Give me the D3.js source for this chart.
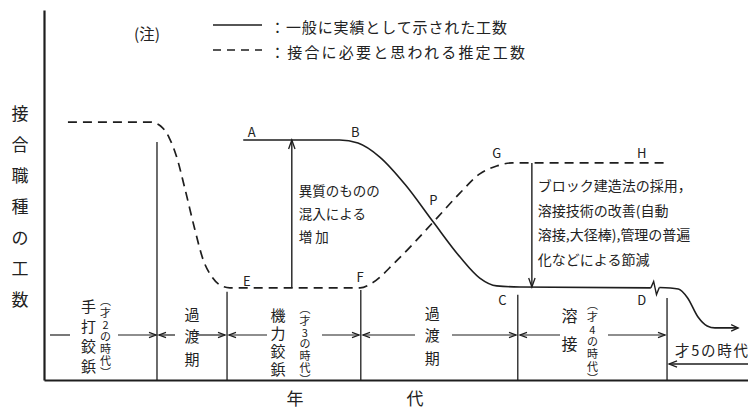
<!DOCTYPE html>
<html><head><meta charset="utf-8">
<script src="https://cdn.jsdelivr.net/npm/d3@7"></script>
<style>
body{margin:0;background:#fff}
svg{display:block}
text{font-family:"Noto Sans CJK JP","Noto Sans",sans-serif;fill:#222}
</style>
</head><body><div id="chart"></div>
<script>
// ---- data (abstract units: x = time 0..100, y = man-hours 0..132) ----
const eraBounds = [0, 16.05, 26.0, 45.0, 67.3, 88.5];
const eraTops   = [85, 31.5, 32.1, 30.4, 29.3];
const eraNames  = ["手打鉸鋲", "過渡期", "機力鉸鋲", "過渡期", "溶接"];
const eraSubs   = ["(才2の時代)", "", "(才3の時代)", "", "(才4の時代)"];
const era5Label = "才5の時代";
const yLabel = "接合職種の工数";
const xLabel = ["年", "代"];
const legendNote = "(注)";
const legendTexts = ["：一般に実績として示された工数", "：接合に必要と思われる推定工数"];

const estimated = [[3.4,92.1],[15.1,92.1],[16.6,90.6],[17.8,86.4],[18.8,80],[20.0,68.5],[21.4,54],[22.6,43],[23.8,37],[25.0,33.9],[26.4,32.9],[44.9,32.9],[46.6,34.6],[49.9,42.1],[55.3,56.4],[59.1,66.8],[61.9,73.6],[64.3,76.4],[66.5,77.5],[88.5,77.5]];
const actual = [[28.3,85.7],[42.0,85.7],[44.6,84.6],[47.7,79.6],[51.3,69.8],[55.3,56.4],[59.1,43.9],[61.9,36.4],[64.3,33.6],[67.6,33.2],[86.2,32.9]];
const actualBreak = [[86.2,32.9],[86.6,35.2],[87.0,30.5],[87.4,33.0]];
const actualTail = [[87.4,33.0],[90.1,32.5],[91.4,29.4],[92.9,22.5],[94.2,19.3],[95.3,18.6],[98.6,18.6]];
const pointLabels = [
  {k:"A",x:29.5,y:88.6},{k:"B",x:44.2,y:88.6},{k:"E",x:28.8,y:35.7},
  {k:"F",x:44.9,y:36.8},{k:"P",x:55.3,y:64.3},{k:"G",x:64.3,y:81.1},
  {k:"H",x:84.9,y:81.4},{k:"C",x:65.1,y:28.6},{k:"D",x:84.9,y:28.6}];
const increaseArrow = {x:35.2, from:32.9, to:85.7};
const reduceArrow   = {x:69.3, from:77.5, to:33.2};
const increaseText = ["異質のものの", "混入による", "増 加"];
const reduceText = ["ブロック建造法の採用，", "溶接技術の改善(自動", "溶接,大径棒),管理の普遍", "化などによる節減"];

// ---- drawing ----
const W = 748, H = 410;
const svg = d3.select("#chart").append("svg").attr("width", W).attr("height", H);
const x = d3.scaleLinear().domain([0, 100]).range([44, 748]);
const y = d3.scaleLinear().domain([0, 132.1]).range([380, 10]);
const ink = "#1e1e1e";

// axes
svg.append("g").attr("transform", "translate(0,380)")
  .call(d3.axisBottom(x).ticks(0).tickSizeOuter(0))
  .call(g => g.select(".domain").attr("stroke", ink).attr("stroke-width", 2.2));
svg.append("g").attr("transform", "translate(44,0)")
  .call(d3.axisLeft(y).ticks(0).tickSizeOuter(0))
  .call(g => g.select(".domain").attr("stroke", ink).attr("stroke-width", 2.2));

// era dividers
eraBounds.slice(1).forEach((b, i) => {
  svg.append("line").attr("x1", x(b)).attr("x2", x(b))
    .attr("y1", y(eraTops[i])).attr("y2", y(0))
    .attr("stroke", ink).attr("stroke-width", 1.3);
});

// curves
const line = d3.line().x(d => x(d[0])).y(d => y(d[1])).curve(d3.curveMonotoneX);
const lin = d3.line().x(d => x(d[0])).y(d => y(d[1]));
svg.append("path").attr("d", line(estimated)).attr("fill", "none")
  .attr("stroke", ink).attr("stroke-width", 1.7).attr("stroke-dasharray", "9,6");
svg.append("path").attr("d", line(actual)).attr("fill", "none")
  .attr("stroke", ink).attr("stroke-width", 1.6);
svg.append("path").attr("d", lin(actualBreak)).attr("fill", "none")
  .attr("stroke", ink).attr("stroke-width", 1.4);
svg.append("path").attr("d", line(actualTail)).attr("fill", "none")
  .attr("stroke", ink).attr("stroke-width", 1.6);

function head(px, py, dir, len = 7, hw = 3.2) {
  let pts;
  if (dir === "r") pts = [[px - len, py - hw], [px, py], [px - len, py + hw]];
  if (dir === "l") pts = [[px + len, py - hw], [px, py], [px + len, py + hw]];
  if (dir === "u") pts = [[px - hw, py + len], [px, py], [px + hw, py + len]];
  if (dir === "d") pts = [[px - hw, py - len], [px, py], [px + hw, py - len]];
  svg.append("polyline").attr("points", pts.map(p => p.join(",")).join(" "))
    .attr("fill", "none").attr("stroke", ink).attr("stroke-width", 1.3);
}
const tailEnd = actualTail[actualTail.length - 1];
head(x(tailEnd[0]), y(tailEnd[1]), "r");

// vertical arrows
[[increaseArrow, "u"], [reduceArrow, "d"]].forEach(([a, dir]) => {
  svg.append("line").attr("x1", x(a.x)).attr("x2", x(a.x))
    .attr("y1", y(a.from)).attr("y2", y(a.to)).attr("stroke", ink).attr("stroke-width", 1.4);
  head(x(a.x), y(a.to), dir, 9, 3.2);
});

// point labels
svg.selectAll("text.pl").data(pointLabels).enter().append("text")
  .attr("class", "pl").attr("x", d => x(d.x)).attr("y", d => y(d.y))
  .attr("text-anchor", "middle").attr("dominant-baseline", "central")
  .attr("font-family", "Liberation Sans, Arial, sans-serif")
  .attr("font-size", 13).text(d => d.k);

// annotation texts
increaseText.forEach((t, i) => {
  svg.append("text").attr("x", x(increaseArrow.x) + 7).attr("y", 190 + i * 23)
    .attr("dominant-baseline", "central").attr("font-size", 13.5).text(t);
});
reduceText.forEach((t, i) => {
  svg.append("text").attr("x", x(reduceArrow.x) + 6).attr("y", 185 + i * 24.5)
    .attr("dominant-baseline", "central").attr("font-size", 14).text(t);
});

// legend
svg.append("text").attr("x", 147).attr("y", 33).attr("text-anchor", "middle")
  .attr("dominant-baseline", "central").attr("font-size", 15.5).text(legendNote);
svg.append("line").attr("x1", 213).attr("x2", 262).attr("y1", 25).attr("y2", 25)
  .attr("stroke", ink).attr("stroke-width", 1.6);
svg.append("line").attr("x1", 213).attr("x2", 262).attr("y1", 50).attr("y2", 50)
  .attr("stroke", ink).attr("stroke-width", 1.7).attr("stroke-dasharray", "8,6");
legendTexts.forEach((t, i) => {
  svg.append("text").attr("x", 270).attr("y", 26 + i * 25).attr("dominant-baseline", "central")
    .attr("font-size", 15).attr("textLength", i ? 255 : 237).attr("lengthAdjust", "spacing").text(t);
});

// vertical text helper (one glyph per row)
function vtext(cx, y0, str, size, step) {
  Array.from(str).map(c => c === "(" ? "︵" : c === ")" ? "︶" : c).forEach((c, i) => {
    svg.append("text").attr("x", cx).attr("y", y0 + i * step).attr("text-anchor", "middle")
      .attr("dominant-baseline", "central").attr("font-size", size).text(c);
  });
}

// y label (vertical)
vtext(20, 112, yLabel, 17, 31);
// x label
svg.append("text").attr("x", 295).attr("y", 397).attr("text-anchor", "middle")
  .attr("dominant-baseline", "central").attr("font-size", 17).text(xLabel[0]);
svg.append("text").attr("x", 415).attr("y", 397).attr("text-anchor", "middle")
  .attr("dominant-baseline", "central").attr("font-size", 17).text(xLabel[1]);

// era labels layout
const eraLayout = [
  {mx:-12, my:305, ms:20, sz:15, sx:5, sy:300, ss:12},
  {mx:0, my:313, ms:22.5, sz:15},
  {mx:-16, my:314, ms:18, sz:15, sx:11, sy:308, ss:11.8},
  {mx:-7, my:312, ms:22.5, sz:15},
  {mx:-23, my:315, ms:28, sz:16, sx:0, sy:304, ss:12.3}
];
eraNames.forEach((n, i) => {
  const cx = (x(eraBounds[i]) + x(eraBounds[i + 1])) / 2, L = eraLayout[i];
  vtext(cx + L.mx, L.my, n, L.sz, L.ms);
  if (eraSubs[i]) vtext(cx + L.sx, L.sy, eraSubs[i], 11, L.ss);
});

// era arrows row
const rowY = 335;
const segs = [
  [50, 70, false, 118, 156],
  [175, 159, true, 197, 225],
  [267, 229, true, 322, 359],
  [415, 363, true, 452, 516],
  [560, 520, true, 608, 665]
];
segs.forEach(s => {
  svg.append("line").attr("x1", s[0]).attr("x2", s[1]).attr("y1", rowY).attr("y2", rowY)
    .attr("stroke", ink).attr("stroke-width", 1.2);
  if (s[2]) head(s[1], rowY, "l", 7, 2.6);
  svg.append("line").attr("x1", s[3]).attr("x2", s[4]).attr("y1", rowY).attr("y2", rowY)
    .attr("stroke", ink).attr("stroke-width", 1.2);
  head(s[4], rowY, "r", 7, 2.6);
});
// 5th era
const e5x = x(eraBounds[5]);
svg.append("line").attr("x1", e5x + 2).attr("x2", 748).attr("y1", 364).attr("y2", 364)
  .attr("stroke", ink).attr("stroke-width", 1.6);
head(e5x + 2, 364, "l", 8, 3.2);
svg.append("text").attr("x", 675).attr("y", 349).attr("dominant-baseline", "central")
  .attr("font-size", 14.5).attr("textLength", 73).attr("lengthAdjust", "spacing").text(era5Label);
</script>
</body></html>
